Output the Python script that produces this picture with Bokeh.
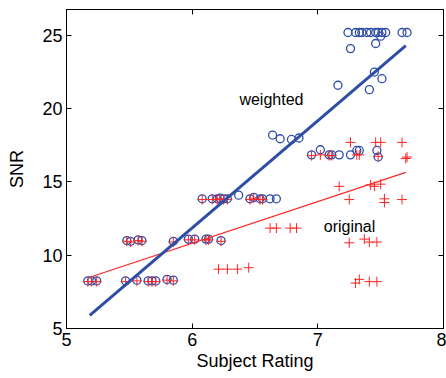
from bokeh.plotting import figure
from bokeh.models import LinearAxis, Range1d, Label, FixedTicker
from bokeh.embed import file_html
from bokeh.resources import INLINE

# ---- data ----
weighted_x = [5.17, 5.20, 5.24, 5.47, 5.56, 5.65, 5.68, 5.71, 5.80, 5.85,
              5.48, 5.51, 5.57, 5.60, 5.85, 5.97, 6.02, 6.11, 6.13, 6.23,
              6.08, 6.16, 6.20, 6.22, 6.25, 6.28, 6.37, 6.46, 6.49, 6.54, 6.56, 6.62, 6.67,
              6.64, 6.70, 6.79, 6.85,
              6.95, 7.02, 7.09, 7.11, 7.17, 7.26, 7.31, 7.33, 7.47, 7.48,
              7.16, 7.41, 7.45, 7.51, 7.26, 7.46, 7.50,
              7.24, 7.30, 7.33, 7.35, 7.39, 7.42, 7.46, 7.48, 7.51, 7.54, 7.67, 7.71]
weighted_y = [8.25, 8.25, 8.25, 8.25, 8.3, 8.25, 8.25, 8.25, 8.35, 8.3,
              11.0, 10.95, 11.05, 11.0, 10.95, 11.1, 11.1, 11.1, 11.1, 11.0,
              13.85, 13.85, 13.85, 13.9, 13.85, 13.85, 14.1, 13.85, 13.95, 13.85, 13.85, 13.85, 13.85,
              18.2, 17.95, 17.9, 18.0,
              16.85, 17.2, 16.85, 16.85, 16.85, 16.85, 17.15, 17.15, 17.15, 16.7,
              21.6, 21.3, 22.5, 22.05, 24.1, 24.45, 24.95,
              25.2, 25.2, 25.2, 25.2, 25.2, 25.2, 25.2, 25.2, 25.2, 25.2, 25.2, 25.2]

original_x = [5.17, 5.20, 5.24, 5.47, 5.56, 5.65, 5.68, 5.71, 5.80, 5.85,
              5.48, 5.51, 5.57, 5.60, 5.85, 5.97, 6.02, 6.11, 6.13, 6.23,
              6.08, 6.16, 6.20, 6.22, 6.25, 6.28, 6.46, 6.49, 6.54, 6.56,
              6.62, 6.67, 6.78, 6.83,
              6.21, 6.28, 6.36, 6.45,
              6.95, 7.02, 7.09, 7.11, 7.31, 7.33, 7.48,
              7.26, 7.46, 7.50, 7.67,
              7.70, 7.71,
              7.17, 7.42, 7.45, 7.50,
              7.25, 7.53, 7.53, 7.67,
              7.25, 7.37, 7.41, 7.47,
              7.30, 7.33, 7.41, 7.47]
original_y = [8.2, 8.2, 8.2, 8.2, 8.25, 8.2, 8.2, 8.2, 8.3, 8.25,
              10.95, 10.9, 11.0, 10.95, 10.9, 11.05, 11.05, 11.05, 11.05, 10.95,
              13.8, 13.8, 13.8, 13.85, 13.8, 13.8, 13.8, 13.9, 13.8, 13.8,
              11.85, 11.85, 11.85, 11.85,
              9.05, 9.05, 9.05, 9.15,
              16.8, 16.85, 16.8, 16.8, 16.85, 16.85, 16.75,
              17.7, 17.7, 17.7, 17.7,
              16.6, 16.7,
              14.7, 14.8, 14.7, 14.85,
              13.8, 13.85, 13.6, 13.8,
              10.85, 11.1, 10.9, 10.9,
              8.1, 8.35, 8.2, 8.2]

fit_x = [5.185, 7.70]
weighted_fit = [5.9, 24.3]
original_fit = [8.5, 15.65]

x_ticks = [5, 6, 7, 8]
y_ticks = [5, 10, 15, 20, 25]

BLUE = "#2E4EA6"
RED = "#FF2525"
FONT = "Liberation Sans"

p = figure(width=446, height=378, x_range=Range1d(5, 8), y_range=Range1d(5, 26.77),
           output_backend="svg", toolbar_location=None,
           min_border_left=66, min_border_right=3, min_border_top=9, min_border_bottom=50)
p.grid.visible = False
p.outline_line_color = "black"
p.outline_line_width = 1
p.background_fill_color = "white"
p.border_fill_color = "white"

p.scatter(weighted_x, weighted_y, marker="circle", size=8, fill_color=None,
          line_color=BLUE, line_width=1.3)
p.scatter(original_x, original_y, marker="cross", size=10, line_color=RED, line_width=1)
p.line(fit_x, original_fit, line_color=RED, line_width=1.2)
p.line(fit_x, weighted_fit, line_color=BLUE, line_width=3)

def style(ax, ticks, show):
    ax.ticker = FixedTicker(ticks=ticks)
    ax.major_tick_in = 5
    ax.major_tick_out = 0
    ax.minor_tick_line_color = None
    ax.axis_line_color = "black"
    ax.major_tick_line_color = "black"
    if show:
        ax.major_label_text_font = FONT
        ax.major_label_text_font_size = "18px"
        ax.major_label_text_color = "black"
        ax.axis_label_text_font = FONT
        ax.axis_label_text_font_size = "18px"
        ax.axis_label_text_font_style = "normal"
        ax.axis_label_text_color = "black"
    else:
        ax.major_label_text_font_size = "0px"
        ax.major_label_text_alpha = 0
        ax.major_label_standoff = 0

style(p.xaxis[0], x_ticks, True)
style(p.yaxis[0], y_ticks, True)
p.xaxis[0].axis_label = "Subject Rating"
p.yaxis[0].axis_label = "SNR"
p.xaxis[0].major_label_standoff = 4
p.xaxis[0].axis_label_standoff = 2
p.yaxis[0].major_label_standoff = 4
p.yaxis[0].axis_label_standoff = 12

top = LinearAxis()
style(top, x_ticks, False)
p.add_layout(top, "above")
right = LinearAxis()
style(right, y_ticks, False)
p.add_layout(right, "right")

p.add_layout(Label(x=6.376, y=20.6, text="weighted", text_font=FONT,
                   text_font_size="16px", text_color="black", text_baseline="alphabetic"))
p.add_layout(Label(x=7.047, y=11.94, text="original", text_font=FONT,
                   text_font_size="16px", text_color="black", text_baseline="alphabetic"))

open("out.html", "w").write(file_html(p, INLINE))
